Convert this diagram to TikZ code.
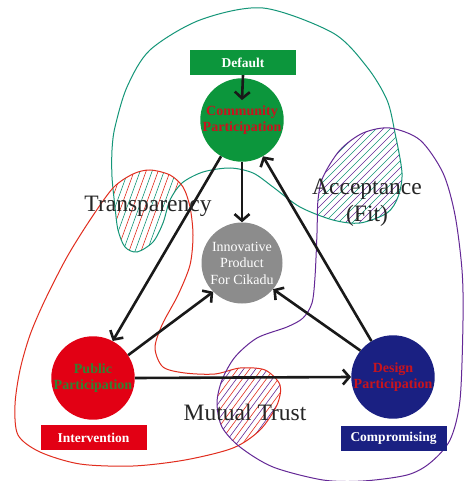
\documentclass[tikz,border=0pt]{standalone}
\usepackage{fontspec}
\setmainfont{Liberation Serif}
\usetikzlibrary{arrows.meta}
\definecolor{cgreen}{RGB}{12,150,60}
\definecolor{cred}{RGB}{226,0,20}
\definecolor{cnavy}{RGB}{26,32,130}
\definecolor{cgray}{RGB}{140,140,140}
\definecolor{tealc}{RGB}{20,150,120}
\definecolor{redc}{RGB}{225,45,30}
\definecolor{purc}{RGB}{100,40,150}
\definecolor{txtred}{RGB}{200,20,30}
\definecolor{txtgreen}{RGB}{50,130,50}
\def\tealcurve{plot[smooth cycle] coordinates {(263,8) (333,33) (367,67) (387,100) (395,133) (402,173) (398,197) (387,213) (360,223) (333,220) (300,207) (273,187) (253,173) (230,168) (203,172) (182,183) (170,200) (163,223) (153,242) (137,252) (125,247) (118,230) (115,207) (112,177) (112,150) (115,127) (127,87) (150,50) (200,20)}}
\def\redcurve{plot[smooth cycle] coordinates {(150,170) (170,175) (183,187) (190,207) (193,235) (190,265) (178,295) (162,325) (155,348) (163,367) (185,373) (215,374) (240,368) (265,370) (280,385) (277,405) (260,430) (233,448) (185,460) (133,466) (80,464) (40,452) (18,435) (15,405) (20,370) (30,335) (45,300) (67,257) (90,220) (113,188) (133,174)}}
\def\purcurve{plot[smooth cycle] coordinates {(318,200) (323,177) (340,150) (363,133) (390,128) (420,140) (443,173) (455,215) (462,270) (463,320) (460,400) (450,440) (430,463) (407,475) (363,481) (323,480) (273,467) (240,447) (222,427) (217,403) (222,380) (235,357) (257,338) (287,327) (303,318) (312,303) (315,277) (317,233)}}
\begin{document}
\begin{tikzpicture}[x=1pt,y=-1pt,
 circ/.style={circle, minimum size=81pt, inner sep=0pt, align=center, font=\fontsize{14}{16}\selectfont\bfseries},
 lbl/.style={rectangle, minimum width=106pt, minimum height=25pt, inner sep=0pt, text=white, font=\fontsize{13.5}{15}\selectfont\bfseries},
 big/.style={font=\fontsize{23.5}{27}\selectfont, text=black!85, inner sep=0pt, align=center},
 arr/.style={line width=2.6pt, -{Straight Barb[length=6.5pt,width=15pt]}, black!90},
 curve/.style={line width=1pt},
 hatch/.style={line width=0.6pt}]
\useasboundingbox (0,0) rectangle (464,481);
\fill[white] (0,0) rectangle (464,481);

% hatched intersections
\begin{scope}
 \clip \redcurve;
 \clip \tealcurve;
 \foreach \x in {40,52,...,210} \draw[hatch,redc] (\x,265) -- ++(40,-110);
 \foreach \x in {46,58,...,216} \draw[hatch,tealc] (\x,265) -- ++(40,-110);
\end{scope}
\begin{scope}
 \clip \tealcurve;
 \clip \purcurve;
 \foreach \x in {200,214,...,420} \draw[hatch,tealc] (\x,235) -- ++(115,-115);
 \foreach \x in {207,221,...,427} \draw[hatch,purc] (\x,235) -- ++(115,-115);
\end{scope}
\begin{scope}
 \clip \redcurve;
 \clip \purcurve;
 \foreach \x in {130,142,...,300} \draw[hatch,redc] (\x,450) -- ++(70,-95);
 \foreach \x in {136,148,...,306} \draw[hatch,purc] (\x,450) -- ++(70,-95);
\end{scope}

% curves
\draw[curve,tealc] \tealcurve;
\draw[curve,redc] \redcurve;
\draw[curve,purc] \purcurve;

% nodes
\node[lbl, fill=cgreen] (def) at (243,62.5) {Default};
\node[circ, fill=cgreen, text=txtred] (comm) at (242,120) {Community\\Participation};
\node[circ, fill=cgray, text=white, font=\fontsize{14}{16.5}\selectfont] (prod) at (242,263) {Innovative\\Product\\For Cikadu};
\node[circ, fill=cred, text=txtgreen] (pub) at (93,378) {Public\\Participation};
\node[circ, fill=cnavy, text=txtred] (des) at (393,377) {Design\\Participation};
\node[lbl, fill=cred] (int) at (93.5,437.5) {Intervention};
\node[lbl, fill=cnavy] (comp) at (393.5,438.5) {Compromising};

% arrows
\draw[arr] (def.south) -- ([yshift=-22pt]comm.north);
\draw[arr] (comm.south) -- (prod.north);
\draw[arr] (comm.240) -- (pub.62);
\draw[arr] (pub.33) -- (prod.225);
\draw[arr] (des.141) -- (prod.320);
\draw[arr] (des.121) -- (comm.300);
\draw[arr] (pub.east) -- (des.west);

% labels
\node[big] (tr) at (148,206) {Transparency};
\node[big] (acc) at (367,203) {Acceptance\\(Fit)};
\node[big] (mt) at (245,412) {Mutual Trust};
\end{tikzpicture}
\end{document}
